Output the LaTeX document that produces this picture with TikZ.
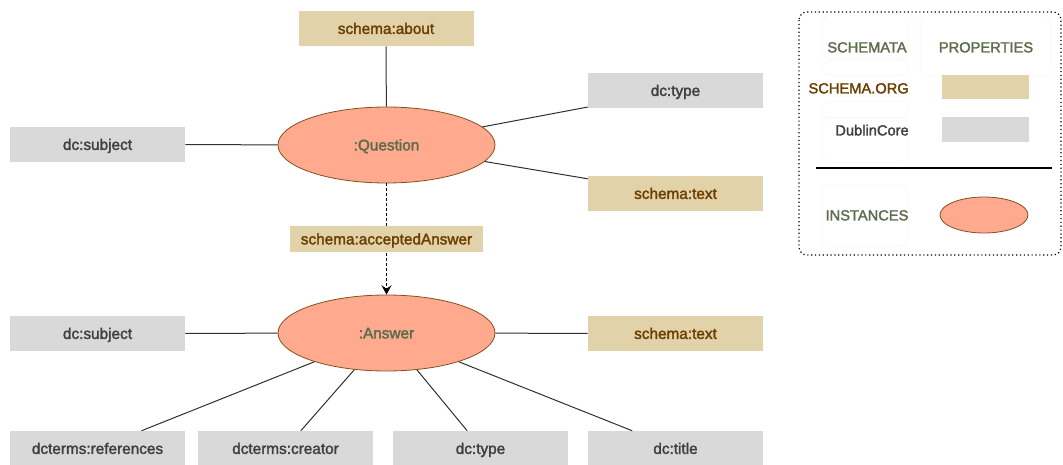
\documentclass[tikz,border=0pt]{standalone}
\usepackage{fontspec}
\setmainfont{Liberation Sans}[FakeBold=2]
\usetikzlibrary{shapes.geometric,arrows.meta}
\definecolor{tanfill}{HTML}{E2D2AA}
\definecolor{tantext}{HTML}{6A3F00}
\definecolor{grayfill}{HTML}{D9D9D9}
\definecolor{graytext}{HTML}{404040}
\definecolor{instfill}{HTML}{FFA98E}
\definecolor{instdraw}{HTML}{82501F}
\definecolor{insttext}{HTML}{5B6C4A}
\definecolor{headtext}{HTML}{5E6E4D}
\definecolor{faint}{HTML}{F9F9F9}
\definecolor{linec}{HTML}{303030}
\tikzset{
  txt/.style={text height=10pt, text depth=1.9pt},
  prop/.style={txt, minimum width=131.25pt, minimum height=26.25pt, inner sep=0pt},
  sprop/.style={prop, fill=tanfill, text=tantext},
  dprop/.style={prop, fill=grayfill, text=graytext},
  inst/.style={txt, ellipse, fill=instfill, draw=instdraw, line width=0.6pt, text=insttext, minimum width=162.75pt, minimum height=57pt, inner sep=0pt},
  conn/.style={draw=linec, line width=0.75pt},
  faintbox/.style={draw=faint, rounded corners=6pt, line width=0.75pt},
  legtxt/.style={txt, inner sep=0pt, font=\fontsize{11}{13}\selectfont}
}
\begin{document}
\begin{tikzpicture}[x=0.75pt,y=-0.75pt, font=\fontsize{11.5}{13}\selectfont]
\useasboundingbox (0,0) rectangle (1063,464);

% instances
\node[inst] (q) at (386.5,145) {:Question};
\node[inst] (a) at (386.5,333) {:Answer};

% properties
\node[sprop] (about) at (386,28.5) {schema:about};
\node[dprop] (qtype) at (675.5,90.5) {dc:type};
\node[dprop] (qsubj) at (97.5,144.5) {dc:subject};
\node[sprop] (qtext) at (675.5,193.5) {schema:text};
\node[dprop] (asubj) at (97.5,333.5) {dc:subject};
\node[sprop] (atext) at (675.5,333.5) {schema:text};
\node[dprop] (aref) at (97.5,448.5) {dcterms:references};
\node[dprop] (acre) at (285.5,448.5) {dcterms:creator};
\node[dprop] (atype) at (480.5,448.5) {dc:type};
\node[dprop] (atitle) at (675.5,448.5) {dc:title};

% connectors
\draw[conn] (q) -- (about);
\draw[conn] (q) -- (qtype);
\draw[conn] (q) -- (qsubj);
\draw[conn] (q) -- (qtext);
\draw[conn] (a) -- (asubj);
\draw[conn] (a) -- (atext);
\draw[conn] (a) -- ([xshift=33pt]aref.north);
\draw[conn] (a) -- ([xshift=11.5pt]acre.north);
\draw[conn] (a) -- ([xshift=-10pt]atype.north);
\draw[conn] (a) -- ([xshift=-32.5pt]atitle.north);

\draw[draw=black, line width=0.75pt, dash pattern=on 2.25pt off 1.5pt, -{Stealth[length=7pt,width=7.5pt,inset=2.5pt]}] (q) -- (a);
\node[txt, fill=tanfill, text=tantext, minimum width=144.75pt, minimum height=19.5pt, inner sep=0pt] (acc) at (386.5,239) {schema:acceptedAnswer};

% legend
\draw[line width=0.9pt, dotted, rounded corners=6pt] (799,12) rectangle (1061,255);
\draw[faintbox] (822,15) rectangle (908,58);
\draw[faintbox] (822,60) rectangle (908,75);
\draw[faintbox] (822,101) rectangle (908,118);
\draw[faintbox] (822,118) rectangle (908,162);
\draw[faintbox] (920,15) rectangle (1051,76);
\draw[faintbox] (822,185) rectangle (908,246);
\node[legtxt, text=headtext] (lschem) at (867,47) {SCHEMATA};
\node[legtxt, text=headtext] (lprop) at (986,47) {PROPERTIES};
\node[legtxt, text=tantext, anchor=east] (lso) at (909,88) {SCHEMA.ORG};
\node[legtxt, text=graytext, anchor=east] (ldc) at (909,130) {DublinCore};
\node[fill=tanfill, minimum width=65.25pt, minimum height=18pt, inner sep=0pt] (lsobox) at (985.5,87) {};
\node[fill=grayfill, minimum width=65.25pt, minimum height=18.75pt, inner sep=0pt] (ldcbox) at (985.5,129.5) {};
\draw[line width=1.2pt] (816,168) -- (1052,168);
\node[legtxt, text=headtext] (linst) at (867,215) {INSTANCES};
\node[ellipse, fill=instfill, draw=instdraw, line width=0.6pt, minimum width=66pt, minimum height=27pt, inner sep=0pt] (linstell) at (984,215) {};
\end{tikzpicture}
\end{document}
